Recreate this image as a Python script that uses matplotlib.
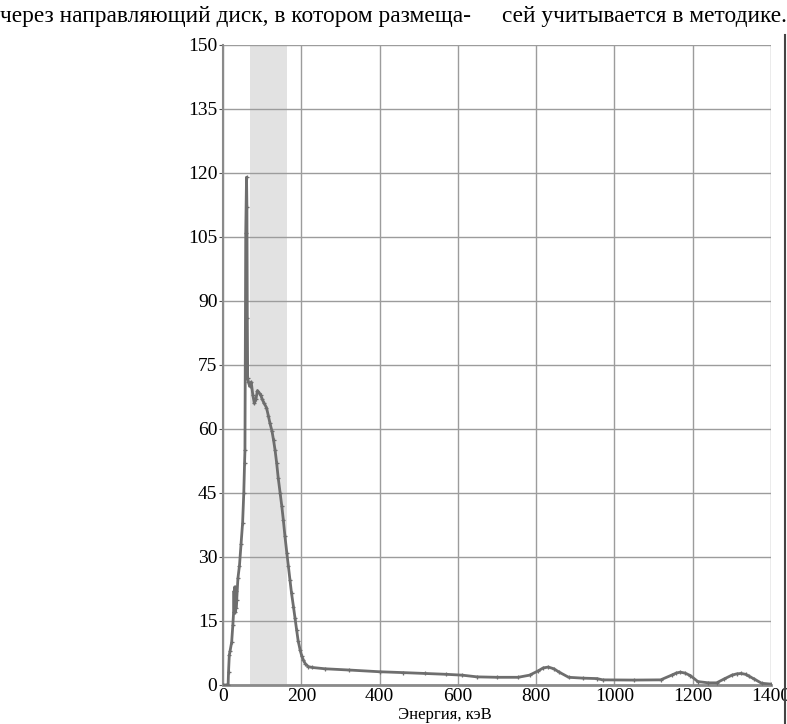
import matplotlib
matplotlib.use("Agg")
import matplotlib.pyplot as plt
from matplotlib.lines import Line2D

# spectrum: energy, keV and counts
energy = [0, 10, 13, 14, 16, 18, 22, 25, 27, 28, 29, 30, 31, 32, 33, 35,
          38, 42, 46, 50, 53, 55, 56, 58, 60, 61, 62, 63, 65, 68, 72, 76,
          80, 84, 88, 92, 96, 100, 105, 111, 116, 120, 125, 129, 133, 137,
          141, 146, 150, 154, 158, 163, 167, 171, 175, 180, 184, 188, 192,
          197, 201, 205, 210, 218, 228, 260, 323, 400, 460, 515, 570, 611,
          649, 700, 754, 783, 805, 818, 831, 845, 859, 883, 920, 955, 970,
          1050, 1118, 1146, 1158, 1168, 1180, 1194, 1213, 1240, 1261, 1280,
          1300, 1312, 1323, 1335, 1345, 1357, 1376, 1400]
counts = [0, 0, 0, 3, 7, 8, 10, 14, 17, 22, 17, 23, 17, 22, 18, 20,
          25, 28, 33, 38, 45, 52, 55, 106, 119, 112, 86, 72, 71, 70, 71, 68,
          66, 67, 69, 68.5, 68, 67, 66, 65, 63, 61.3, 59.5, 57.4, 55, 52,
          48.5, 44.9, 42, 38.7, 35, 30.9, 27.8, 24.6, 21.5, 18.3, 15.6, 12.9, 10.3,
          8.2, 6.8, 5.9, 5.0, 4.3, 4.1, 3.8, 3.5, 3.1, 2.9, 2.7, 2.5, 2.3,
          1.9, 1.8, 1.8, 2.3, 3.3, 4.0, 4.2, 3.8, 3.0, 1.8, 1.6, 1.5, 1.2,
          1.15, 1.2, 2.3, 2.8, 3.0, 2.8, 2.2, 0.8, 0.5, 0.5, 1.4,
          2.3, 2.6, 2.7, 2.5, 2.0, 1.4, 0.4, 0.2]

band = (70, 163)
x_ticks = list(range(0, 1401, 200))
y_ticks = list(range(0, 151, 15))

plt.rcParams['font.family'] = ['Liberation Serif', 'DejaVu Serif']

fig = plt.figure(figsize=(7.87, 7.24), dpi=100)
ax = fig.add_axes([0.2834, 0.0539, 0.6963, 0.8840])

ax.axvspan(band[0], band[1], color='#e2e2e2', lw=0, zorder=0)
ax.plot(energy, counts, color='#6e6e6e', lw=2.0, marker='+', ms=3.5, mew=0.9,
        zorder=3)

ax.set_xlim(0, 1400)
ax.set_ylim(0, 150)
ax.set_xticks(x_ticks)
ax.set_yticks(y_ticks)
ax.grid(True, color='#9c9c9c', lw=1)
ax.set_axisbelow(True)
for s in ['top', 'right']:
    ax.spines[s].set_visible(False)
ax.spines['left'].set_color('#8a8a8a')
ax.spines['left'].set_linewidth(1.5)
ax.spines['bottom'].set_color('#8a8a8a')
ax.spines['bottom'].set_linewidth(2)
ax.tick_params(axis='y', length=3, color='#555555', labelsize=14, pad=1)
ax.tick_params(axis='x', length=0, labelsize=14, pad=2)

fig.text(0.565, 0.001, 'Энергия, кэВ', ha='center', va='bottom', fontsize=12)

# page text around the chart
fig.text(0.0, 0.992, 'через направляющий диск, в котором размеща-',
         ha='left', va='top', fontsize=16.8)
fig.text(1.0, 0.992, 'сей учитывается в методике.',
         ha='right', va='top', fontsize=16.8)
fig.add_artist(Line2D([0.998, 0.998], [0.0, 0.952], color='#444444', lw=1.5))

fig.savefig('out.png', dpi=100, facecolor='white')
